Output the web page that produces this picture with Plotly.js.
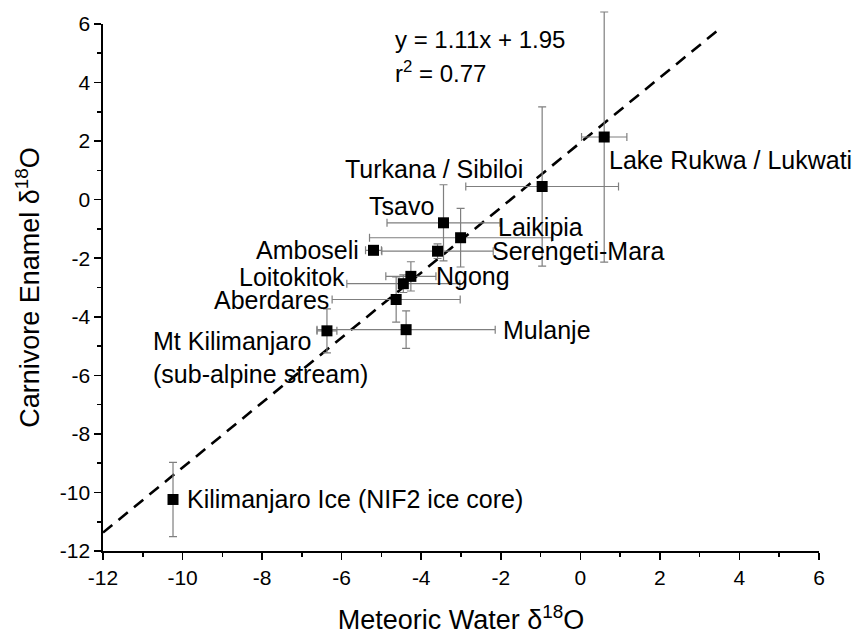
<!DOCTYPE html>
<html>
<head>
<meta charset="utf-8">
<script src="https://cdn.plot.ly/plotly-3.0.1.min.js"></script>
<style>html,body{margin:0;padding:0;background:#fff;}#chart{width:857px;height:637px;}</style>
</head>
<body>
<div id="chart"></div>
<script>
// ---- data ----
var sites = ["Turkana / Sibiloi", "Lake Rukwa / Lukwati", "Tsavo", "Laikipia", "Serengeti-Mara",
             "Amboseli", "Loitokitok", "Ngong", "Aberdares", "Mulanje",
             "Mt Kilimanjaro<br>(sub-alpine stream)", "Kilimanjaro Ice (NIF2 ice core)"];
var waterX    = [-0.96, 0.60, -3.44, -3.01, -3.59, -5.20, -4.45, -4.26, -4.63, -4.38, -6.37, -10.24];
var waterXErr = [ 1.92, 0.57,  1.42,  2.29,  1.40,  0.20,  1.42,  0.63,  1.61,  2.24,  0.25,   0.00];
var enamelY   = [ 0.45, 2.14, -0.79, -1.30, -1.76, -1.73, -2.87, -2.62, -3.41, -4.44, -4.48, -10.24];
var enamelYErr= [ 2.72, 4.27,  1.30,  1.00,  0.25,  0.10,  0.30,  0.50,  0.77,  0.64,  0.75,   1.27];
var fitX = [-12, 3.47];
var fitY = [-11.37, 5.80];
var xTickVals = [-12, -10, -8, -6, -4, -2, 0, 2, 4, 6];
var yTickVals = [-12, -10, -8, -6, -4, -2, 0, 2, 4, 6];

// label placement (pixel offsets from each point) — layout, not data
var labelAnchor = ["right","left","right","left","left","right","right","left","right","left","right","left"];
var labelDX     = [-18, 4, -9, 36, 53, -13, -57, 24, -66, 96, 42, 13];
var labelDY     = [17, -23, 17, 11, 0, 0, 7, 0, 0, 0, -27, 0];

var FONT = "Liberation Sans, Arial, sans-serif";

var traces = [
  {
    x: fitX, y: fitY, mode: "lines", type: "scatter",
    line: {color: "#000", width: 2.6, dash: "12px,8px"},
    hoverinfo: "skip", showlegend: false
  },
  {
    x: waterX, y: enamelY, mode: "markers", type: "scatter", cliponaxis: false,
    marker: {symbol: "square", size: 11, color: "#000"},
    error_x: {type: "data", array: waterXErr, visible: true, color: "#7f7f7f", thickness: 1.2, width: 4},
    error_y: {type: "data", array: enamelYErr, visible: true, color: "#7f7f7f", thickness: 1.2, width: 4},
    showlegend: false, text: sites, hoverinfo: "text"
  }
];

var annotations = sites.map(function (s, i) {
  return {
    x: waterX[i], y: enamelY[i], xref: "x", yref: "y",
    text: s, showarrow: false, xanchor: labelAnchor[i], yanchor: "middle",
    align: "left", xshift: labelDX[i], yshift: labelDY[i], borderpad: 0,
    font: {family: FONT, size: 25, color: "#000"}
  };
});
annotations.push({
  xref: "paper", yref: "paper", x: 0.406, y: 0.970, xanchor: "left", yanchor: "middle",
  text: "y = 1.11x + 1.95", showarrow: false, borderpad: 0,
  font: {family: FONT, size: 24, color: "#000"}
});
annotations.push({
  xref: "paper", yref: "paper", x: 0.406, y: 0.909, xanchor: "left", yanchor: "middle",
  text: "r<sup>2</sup> = 0.77", showarrow: false, borderpad: 0,
  font: {family: FONT, size: 24, color: "#000"}
});

var axisCommon = {
  showgrid: false, zeroline: false, showline: true, linecolor: "#000", linewidth: 1.6,
  ticks: "outside", ticklen: 7, tickwidth: 1.6, tickcolor: "#000",
  tickfont: {family: FONT, size: 21, color: "#000"},
  minor: {ticks: "outside", ticklen: 4, tickwidth: 1.6, tickcolor: "#000", dtick: 1},
  mirror: false, automargin: false
};

var layout = {
  width: 857, height: 637,
  margin: {l: 103, r: 38, t: 24, b: 86},
  paper_bgcolor: "#fff", plot_bgcolor: "#fff",
  showlegend: false,
  xaxis: Object.assign({}, axisCommon, {
    range: [-12, 6], tickvals: xTickVals, ticktext: xTickVals.map(String),
    title: {text: "Meteoric Water δ<sup>18</sup>O", font: {family: FONT, size: 27, color: "#000"}, standoff: 22}
  }),
  yaxis: Object.assign({}, axisCommon, {
    range: [-12, 6], tickvals: yTickVals, ticktext: yTickVals.map(String),
    title: {text: "Carnivore Enamel δ<sup>18</sup>O", font: {family: FONT, size: 27, color: "#000"}, standoff: 12}
  }),
  annotations: annotations
};

Plotly.newPlot("chart", traces, layout, {staticPlot: true, displayModeBar: false}).then(function (gd) {
  // let error bars extend beyond the plot frame, as in the reference (Lake Rukwa's upper bar)
  gd.querySelectorAll(".errorbars, .errorbar, .errorbars path, .errorbars *").forEach(function (el) {
    el.removeAttribute("clip-path");
  });
  var tr = gd.querySelectorAll(".scatterlayer .trace");
  tr.forEach(function (el) {
    if (el.querySelector(".errorbars")) el.removeAttribute("clip-path");
  });
  var pl = gd.querySelectorAll(".plot");
  pl.forEach(function (el) { el.removeAttribute("clip-path"); });
});
</script>
</body>
</html>
